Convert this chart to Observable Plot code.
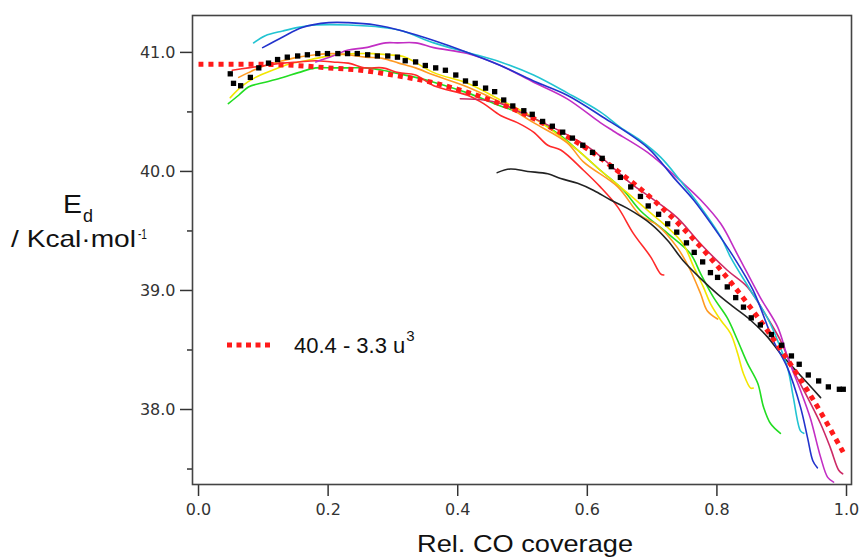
<!DOCTYPE html>
<html>
<head>
<meta charset="utf-8">
<script src="https://cdn.jsdelivr.net/npm/d3@7"></script>
<script src="https://cdn.jsdelivr.net/npm/@observablehq/plot@0.6"></script>
<style>
  html, body { margin: 0; padding: 0; background: white; }
  #wrap { position: relative; width: 861px; height: 559px; overflow: hidden; }
  #wrap svg.overlay { position: absolute; left: 0; top: 0; pointer-events: none; }
</style>
</head>
<body>
<div id="wrap"></div>
<script>
// ---- tick values ----
const xTicks = [0, 0.2, 0.4, 0.6, 0.8, 1.0];
const yMajor = [38, 39, 40, 41];
const yMinor = [37.5, 38.5, 39.5, 40.5];

// ---- series: [coverage u, Ed (kcal/mol)] ----
const cyan = [[0.085,41.08],[0.103,41.14],[0.130,41.18],[0.154,41.21],[0.181,41.23],[0.231,41.23],[0.284,41.21],[0.315,41.18],[0.363,41.08],[0.415,41.00],[0.466,40.92],[0.517,40.81],[0.569,40.66],[0.620,40.50],[0.651,40.37],[0.682,40.26],[0.713,40.12],[0.744,39.92],[0.775,39.70],[0.806,39.45],[0.821,39.28],[0.852,39.00],[0.878,38.77],[0.898,38.52],[0.910,38.33],[0.918,38.10],[0.929,37.82],[0.934,37.80]];
const blue = [[0.099,41.04],[0.130,41.13],[0.160,41.21],[0.201,41.25],[0.231,41.25],[0.273,41.23],[0.315,41.18],[0.363,41.10],[0.415,41.00],[0.466,40.89],[0.517,40.76],[0.569,40.64],[0.620,40.47],[0.693,40.20],[0.733,39.95],[0.764,39.76],[0.795,39.53],[0.826,39.28],[0.856,39.00],[0.887,38.58],[0.909,38.35],[0.929,38.02],[0.940,37.76],[0.948,37.57],[0.955,37.51]];
const magenta = [[0.181,40.92],[0.207,40.97],[0.231,41.02],[0.258,41.04],[0.289,41.08],[0.307,41.08],[0.335,41.08],[0.363,41.04],[0.415,40.99],[0.466,40.89],[0.517,40.75],[0.569,40.61],[0.620,40.41],[0.640,40.34],[0.693,40.16],[0.744,39.92],[0.775,39.76],[0.806,39.56],[0.832,39.30],[0.867,38.94],[0.894,38.69],[0.909,38.44],[0.929,38.16],[0.944,37.93],[0.960,37.60],[0.971,37.43],[0.980,37.39]];
const crimson = [[0.404,40.61],[0.440,40.60],[0.466,40.57],[0.500,40.49],[0.600,40.21],[0.667,39.90],[0.698,39.78],[0.739,39.61],[0.775,39.39],[0.816,39.17],[0.847,39.03],[0.878,38.77],[0.898,38.58],[0.918,38.33],[0.940,38.10],[0.960,37.88],[0.975,37.68],[0.988,37.49],[0.994,37.46]];
const red = [[0.052,40.85],[0.077,40.87],[0.103,40.89],[0.130,40.91],[0.154,40.92],[0.181,40.93],[0.207,40.92],[0.231,40.91],[0.258,40.87],[0.284,40.87],[0.309,40.83],[0.335,40.81],[0.363,40.72],[0.415,40.64],[0.440,40.57],[0.466,40.47],[0.492,40.41],[0.517,40.33],[0.539,40.22],[0.559,40.18],[0.594,40.01],[0.620,39.87],[0.647,39.70],[0.671,39.48],[0.698,39.28],[0.713,39.14],[0.718,39.13]];
const orange = [[0.062,40.79],[0.077,40.83],[0.103,40.89],[0.130,40.93],[0.154,40.96],[0.181,40.98],[0.207,40.99],[0.231,40.98],[0.258,40.96],[0.284,40.95],[0.309,40.91],[0.335,40.87],[0.363,40.81],[0.415,40.71],[0.466,40.58],[0.517,40.41],[0.569,40.24],[0.594,40.08],[0.647,39.87],[0.682,39.63],[0.708,39.55],[0.739,39.36],[0.759,39.17],[0.775,38.97],[0.785,38.83],[0.801,38.76]];
const yellow = [[0.049,40.62],[0.068,40.72],[0.088,40.79],[0.114,40.85],[0.139,40.90],[0.165,40.93],[0.191,40.96],[0.216,40.98],[0.242,40.99],[0.269,40.99],[0.293,40.98],[0.319,40.96],[0.363,40.83],[0.415,40.74],[0.466,40.60],[0.517,40.45],[0.585,40.18],[0.620,40.01],[0.662,39.82],[0.698,39.65],[0.724,39.53],[0.748,39.39],[0.764,39.20],[0.779,39.03],[0.790,38.89],[0.806,38.75],[0.821,38.64],[0.832,38.47],[0.841,38.30],[0.852,38.18],[0.856,38.18]];
const green = [[0.046,40.57],[0.062,40.64],[0.077,40.71],[0.103,40.75],[0.130,40.79],[0.154,40.83],[0.181,40.87],[0.207,40.87],[0.231,40.87],[0.258,40.87],[0.284,40.85],[0.309,40.82],[0.335,40.79],[0.363,40.75],[0.415,40.66],[0.466,40.55],[0.517,40.45],[0.559,40.30],[0.585,40.18],[0.620,40.01],[0.656,39.84],[0.682,39.67],[0.724,39.48],[0.759,39.31],[0.775,39.14],[0.795,38.94],[0.816,38.77],[0.832,38.58],[0.847,38.39],[0.863,38.22],[0.872,38.02],[0.883,37.88],[0.898,37.80]];
const blackLine = [[0.461,39.99],[0.481,40.02],[0.508,40.00],[0.539,39.98],[0.559,39.94],[0.585,39.90],[0.610,39.84],[0.636,39.76],[0.662,39.69],[0.698,39.56],[0.724,39.42],[0.748,39.25],[0.775,39.10],[0.801,38.97],[0.826,38.86],[0.852,38.75],[0.878,38.61],[0.898,38.47],[0.918,38.35],[0.940,38.22],[0.960,38.10]];
const blackSquares = [[0.049,40.82],[0.054,40.74],[0.065,40.72],[0.080,40.79],[0.093,40.87],[0.108,40.91],[0.122,40.94],[0.137,40.96],[0.153,40.97],[0.168,40.98],[0.184,40.99],[0.199,40.99],[0.215,40.99],[0.230,40.99],[0.245,40.99],[0.261,40.98],[0.276,40.97],[0.292,40.97],[0.307,40.96],[0.319,40.93],[0.335,40.92],[0.350,40.89],[0.366,40.87],[0.381,40.85],[0.397,40.81],[0.412,40.76],[0.427,40.74],[0.443,40.70],[0.457,40.67],[0.471,40.60],[0.485,40.55],[0.502,40.51],[0.515,40.48],[0.531,40.42],[0.546,40.38],[0.562,40.33],[0.577,40.28],[0.593,40.22],[0.608,40.16],[0.623,40.11],[0.637,40.04],[0.651,39.95],[0.667,39.87],[0.682,39.79],[0.694,39.71],[0.710,39.64],[0.724,39.56],[0.738,39.49],[0.753,39.40],[0.765,39.32],[0.778,39.24],[0.790,39.15],[0.801,39.11],[0.816,39.03],[0.829,38.94],[0.841,38.86],[0.853,38.77],[0.867,38.71],[0.884,38.63],[0.900,38.54],[0.915,38.45],[0.927,38.38],[0.941,38.29],[0.957,38.24],[0.972,38.19],[0.989,38.17],[0.995,38.17]];
const fitRed = [[0,40.90],[0.05,40.90],[0.10,40.90],[0.15,40.89],[0.20,40.87],[0.25,40.85],[0.30,40.81],[0.35,40.76],[0.40,40.69],[0.45,40.60],[0.50,40.49],[0.55,40.35],[0.60,40.19],[0.65,39.99],[0.70,39.77],[0.75,39.51],[0.80,39.21],[0.85,38.87],[0.90,38.49],[0.95,38.07],[0.995,37.64]];

const legendLabel = "40.4 - 3.3 u";
const legendSup = "3";
const xLabel = "Rel. CO coverage";

const solidSeries = [
  {data: green, color: "#22dd22"},
  {data: yellow, color: "#f2e600"},
  {data: orange, color: "#ff9a22"},
  {data: red, color: "#ff2a2a"},
  {data: blackLine, color: "#222222"},
  {data: crimson, color: "#cc2a66"},
  {data: magenta, color: "#c22ec4"},
  {data: cyan, color: "#22c4d2"},
  {data: blue, color: "#2233cc"}
];

const chart = Plot.plot({
  width: 861,
  height: 559,
  marginLeft: 192,
  marginRight: 10,
  marginTop: 15,
  marginBottom: 75,
  x: {domain: [-0.0093, 1.0077]},
  y: {domain: [37.37, 41.31]},
  style: {fontFamily: "'DejaVu Sans', Verdana, sans-serif", fontSize: "16px", color: "#333", background: "white"},
  marks: [
    Plot.axisX({ticks: xTicks, tickFormat: d => d.toFixed(1), tickSize: 12, tickPadding: 7, strokeWidth: 1.5, label: null}),
    Plot.axisY({ticks: yMajor, tickFormat: d => d.toFixed(1), tickSize: 12, tickPadding: 5, strokeWidth: 1.5, label: null}),
    Plot.axisY({ticks: yMinor, tickFormat: () => "", tickSize: 5, strokeWidth: 1.5, label: null}),
    ...solidSeries.map(s => Plot.line(s.data, {x: d => d[0], y: d => d[1], stroke: s.color, strokeWidth: 1.6, curve: "catmull-rom"})),
    Plot.line(fitRed, {x: d => d[0], y: d => d[1], stroke: "#ff1a1a", strokeWidth: 5, strokeDasharray: "5,5", strokeLinecap: "butt", curve: "catmull-rom"}),
    Plot.dot(blackSquares, {x: d => d[0], y: d => d[1], symbol: "square", r: 3, fill: "black", stroke: "none"}),
    Plot.frame({stroke: "#444", strokeWidth: 1.6})
  ]
});

const wrap = document.getElementById("wrap");
wrap.appendChild(chart);

// overlay texts (axis titles and legend)
const ns = "http://www.w3.org/2000/svg";
const ov = document.createElementNS(ns, "svg");
ov.setAttribute("class", "overlay");
ov.setAttribute("width", 861);
ov.setAttribute("height", 559);
ov.style.fontFamily = "'Liberation Sans', Arial, Helvetica, sans-serif";
function txt(s, x, y, size, opts = {}) {
  const t = document.createElementNS(ns, "text");
  t.setAttribute("x", x);
  t.setAttribute("y", y);
  t.setAttribute("font-size", size);
  t.setAttribute("fill", opts.fill || "#111");
  if (opts.len) { t.setAttribute("textLength", opts.len); t.setAttribute("lengthAdjust", "spacingAndGlyphs"); }
  t.textContent = s;
  ov.appendChild(t);
  return t;
}
// y title: E_d / Kcal·mol^-1
txt("E", 63, 213, 25, {len: 19});
txt("d", 83, 222, 18, {len: 10});
txt("/ Kcal\u00B7mol", 11, 247, 24, {len: 125});
txt("-1", 138, 239, 15, {len: 9});
// x title
txt(xLabel, 417, 552, 24, {len: 216});
// legend
const lg = document.createElementNS(ns, "line");
lg.setAttribute("x1", 227); lg.setAttribute("x2", 272);
lg.setAttribute("y1", 345); lg.setAttribute("y2", 345);
lg.setAttribute("stroke", "#ff1a1a"); lg.setAttribute("stroke-width", 5);
lg.setAttribute("stroke-dasharray", "5,4.5");
ov.appendChild(lg);
const lt = document.createElementNS(ns, "text");
lt.setAttribute("x", 294); lt.setAttribute("y", 353);
lt.setAttribute("font-size", 22); lt.setAttribute("fill", "#111");
const t1 = document.createElementNS(ns, "tspan");
t1.textContent = legendLabel;
const t2 = document.createElementNS(ns, "tspan");
t2.setAttribute("dx", 1); t2.setAttribute("dy", -12); t2.setAttribute("font-size", 15);
t2.textContent = legendSup;
lt.appendChild(t1); lt.appendChild(t2);
ov.appendChild(lt);
wrap.appendChild(ov);
</script>
</body>
</html>
